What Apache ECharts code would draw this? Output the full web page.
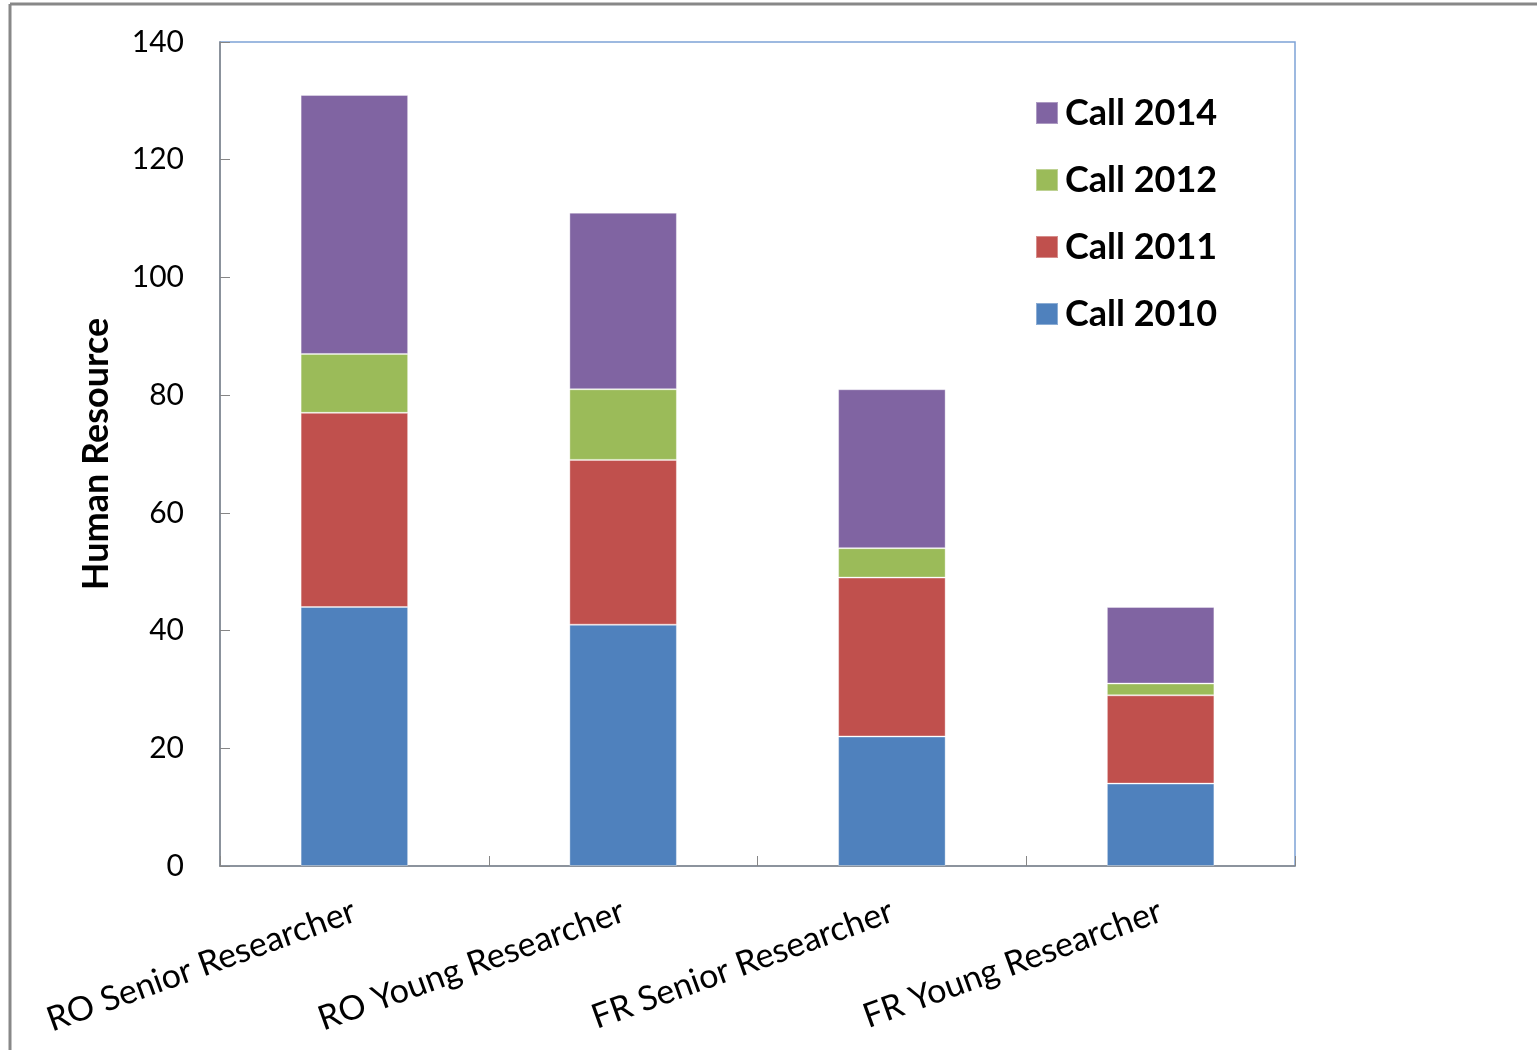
<!DOCTYPE html>
<html>
<head>
<meta charset="utf-8">
<script src="https://cdn.jsdelivr.net/npm/echarts@6/dist/echarts.min.js"></script>
<style>
html,body{margin:0;padding:0;background:#fff;}
#chart{width:1537px;height:1050px;}
</style>
</head>
<body>
<div id="chart"></div>
<script>
const categories = ['RO Senior Researcher', 'RO Young Researcher', 'FR Senior Researcher', 'FR Young Researcher'];
const call2010 = [44, 41, 22, 14];
const call2011 = [33, 28, 27, 15];
const call2012 = [10, 12, 5, 2];
const call2014 = [44, 30, 27, 13];
const yTicks = [0, 20, 40, 60, 80, 100, 120, 140];
const legendOrder = ['Call 2014', 'Call 2012', 'Call 2011', 'Call 2010'];

const FONT = 'Lato, "Open Sans", sans-serif';
const chart = echarts.init(document.getElementById('chart'));

function bar(name, data, color) {
  return {
    name: name, type: 'bar', stack: 'total', data: data,
    barWidth: '40%',
    itemStyle: { color: color, borderColor: 'rgba(255,255,255,0.35)', borderWidth: 1 },
    emphasis: { disabled: true }
  };
}

chart.setOption({
  animation: false,
  backgroundColor: '#fff',
  textStyle: { fontFamily: FONT },
  graphic: [
    { type: 'line', shape: { x1: 10, y1: 4, x2: 1537, y2: 4 }, style: { stroke: '#888', lineWidth: 3 } },
    { type: 'line', shape: { x1: 10, y1: 4, x2: 10, y2: 1050 }, style: { stroke: '#888', lineWidth: 3 } }
  ],
  grid: {
    left: 220, top: 42, width: 1075, height: 824,
    show: true, borderColor: '#7EA2D6', borderWidth: 1.5, backgroundColor: 'transparent'
  },
  legend: {
    data: legendOrder,
    orient: 'vertical',
    left: 1030, top: 90,
    itemWidth: 22, itemHeight: 22, itemGap: 31,
    icon: 'rect',
    textStyle: { fontSize: 36, fontWeight: 'bold', color: '#000', fontFamily: FONT, padding: [0, 0, 0, 2] },
    selectedMode: false
  },
  xAxis: {
    type: 'category',
    data: categories,
    axisLine: { lineStyle: { color: '#868686', width: 1.5 } },
    axisTick: { show: true, inside: true, length: 10, lineStyle: { color: '#868686' } },
    axisLabel: { rotate: 20, fontSize: 34, color: '#000', fontFamily: FONT, margin: 44, interval: 0 }
  },
  yAxis: {
    type: 'value',
    min: 0, max: 140, interval: 20,
    name: 'Human Resource',
    nameLocation: 'middle',
    nameGap: 106,
    nameTextStyle: { fontSize: 36, fontWeight: 'bold', color: '#000', fontFamily: FONT },
    axisLine: { show: true, lineStyle: { color: '#868686', width: 1.5 } },
    axisTick: { show: true, inside: true, length: 10, lineStyle: { color: '#868686' } },
    splitLine: { show: false },
    axisLabel: {
      fontSize: 30, color: '#000', fontFamily: FONT, margin: 36,
      formatter: function (v) { return yTicks.indexOf(v) >= 0 ? String(v) : ''; }
    }
  },
  series: [
    bar('Call 2010', call2010, '#4F81BD'),
    bar('Call 2011', call2011, '#C0504D'),
    bar('Call 2012', call2012, '#9BBB59'),
    bar('Call 2014', call2014, '#8064A2')
  ]
});
</script>
</body>
</html>
